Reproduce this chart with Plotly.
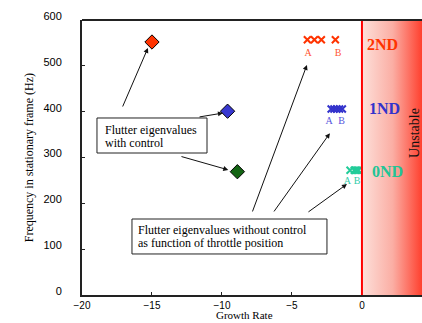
import plotly.graph_objects as go

# ---- data ----
ctrl_labels = ["2ND", "1ND", "0ND"]
ctrl_growth = [-15.0, -9.6, -8.9]
ctrl_freq = [552, 401, 269]
ctrl_colors = ["#ff3300", "#3838d0", "#146414"]

nd2_growth = [-3.9, -3.4, -2.9, -1.9]
nd2_freq = [557, 557, 557, 557]
nd1_growth = [-2.2, -2.0, -1.8, -1.6, -1.4]
nd1_freq = [406, 406, 406, 406, 406]
nd0_growth = [-0.85, -0.55, -0.45, -0.35, -0.25]
nd0_freq = [272, 272, 272, 272, 272]

ab_text = ["A", "B"]
nd2_ab_x = [-3.85, -1.7]
nd2_ab_y = [527, 527]
nd1_ab_x = [-2.35, -1.45]
nd1_ab_y = [378, 378]
nd0_ab_x = [-1.05, -0.35]
nd0_ab_y = [247, 247]

xticks = [-20, -15, -10, -5, 0]
yticks = [0, 100, 200, 300, 400, 500, 600]

box1_lines = ["Flutter eigenvalues", "with control"]
box2_lines = ["Flutter eigenvalues without control", "as function of throttle position"]

SANS = "Liberation Sans, Arial, sans-serif"
SERIF = "Liberation Serif, Times New Roman, serif"

fig = go.Figure()

# unstable gradient region
fig.add_trace(go.Scatter(
    x=[0, 4.4, 4.4, 0, 0], y=[0, 0, 600, 600, 0], mode="lines",
    line=dict(width=0), fill="toself",
    fillgradient=dict(type="horizontal",
                      colorscale=[[0, "#fde0da"], [0.5, "#fbaea4"], [1, "#ff3a28"]]),
    hoverinfo="skip", showlegend=False))

# controlled eigenvalues (diamonds)
fig.add_trace(go.Scatter(
    x=ctrl_growth, y=ctrl_freq, mode="markers",
    marker=dict(symbol="diamond", size=11, color=ctrl_colors,
                line=dict(color="black", width=1)),
    showlegend=False))

for gx, fy, col in [(nd2_growth, nd2_freq, "#ff3300"),
                    (nd1_growth, nd1_freq, "#3333cc"),
                    (nd0_growth, nd0_freq, "#22cc99")]:
    fig.add_trace(go.Scatter(
        x=gx, y=fy, mode="markers",
        marker=dict(symbol="x-thin-open", size=7, color=col,
                    line=dict(color=col, width=2)),
        showlegend=False))

for ax_, ay_, col in [(nd2_ab_x, nd2_ab_y, "#ff5533"),
                      (nd1_ab_x, nd1_ab_y, "#5555dd"),
                      (nd0_ab_x, nd0_ab_y, "#33ccaa")]:
    fig.add_trace(go.Scatter(
        x=ax_, y=ay_, mode="text", text=ab_text,
        textfont=dict(family=SERIF, size=10, color=col),
        showlegend=False))

# red stability line
fig.add_shape(type="line", x0=0, x1=0, y0=0, y1=600, xref="x", yref="y",
              line=dict(color="#ff0000", width=2))

ann = []
# mode labels
for txt, x, y, col in [("2ND", 1.45, 546, "#ff3300"),
                       ("1ND", 1.6, 408, "#3333cc"),
                       ("0ND", 1.85, 269, "#22c496")]:
    ann.append(dict(x=x, y=y, xref="x", yref="y", text="<b>%s</b>" % txt,
                    showarrow=False, font=dict(family=SERIF, size=16, color=col)))
ann.append(dict(x=3.8, y=354, xref="x", yref="y", text="Unstable", textangle=-90,
                showarrow=False, font=dict(family=SERIF, size=14, color="#111111")))

# text boxes (rectangle + lines of text)
fig.add_shape(type="rect", xref="x", yref="y", x0=-18.93, x1=-11.07, y0=309.8, y1=386.2,
              line=dict(color="#222222", width=1), fillcolor="white")
fig.add_shape(type="rect", xref="x", yref="y", x0=-16.43, x1=-2.5, y0=89.5, y1=165.8,
              line=dict(color="#222222", width=1), fillcolor="white")
for txt, y in zip(box1_lines, [360, 331.7]):
    ann.append(dict(x=-18.5, y=y, xref="x", yref="y", xanchor="left", yanchor="middle",
                    text=txt, showarrow=False,
                    font=dict(family=SERIF, size=12, color="black")))
for txt, y in zip(box2_lines, [141.8, 113.5]):
    ann.append(dict(x=-16.14, y=y, xref="x", yref="y", xanchor="left", yanchor="middle",
                    text=txt, showarrow=False,
                    font=dict(family=SERIF, size=12, color="black")))

# arrows (tail -> head), in data coordinates
arrows = [((-17.14, 408), (-15.29, 539)),
          ((-11.71, 388), (-9.93, 397)),
          ((-13.0, 303), (-9.55, 273)),
          ((-7.86, 179), (-3.93, 502)),
          ((-6.36, 179), (-2.29, 353)),
          ((-3.93, 179), (-1.07, 242))]
for (tx, ty), (hx, hy) in arrows:
    ann.append(dict(x=hx, y=hy, ax=tx, ay=ty, xref="x", yref="y", axref="x", ayref="y",
                    text="", showarrow=True, arrowhead=2, arrowsize=1, arrowwidth=1,
                    arrowcolor="#111111", standoff=0, startstandoff=0))

# axis titles
ann.append(dict(x=0.479, y=-0.1, xref="paper", yref="paper", yanchor="bottom",
                text="Growth Rate", showarrow=False,
                font=dict(family=SERIF, size=11, color="black")))
ann.append(dict(x=-0.183, y=0.5, xref="paper", yref="paper",
                text="Frequency in stationary frame (Hz)", textangle=-90, showarrow=False,
                font=dict(family=SERIF, size=12, color="black")))

fig.update_layout(
    width=422, height=323, margin=dict(l=82, r=0, t=20, b=28),
    paper_bgcolor="white", plot_bgcolor="white",
    annotations=ann, showlegend=False,
    xaxis=dict(range=[-20, 4.29], tickvals=xticks, ticks="inside", ticklen=3,
               tickcolor="#222222", showgrid=False, zeroline=False,
               showline=True, linecolor="#222222", linewidth=2, mirror=False,
               tickfont=dict(family=SANS, size=10, color="black")),
    yaxis=dict(range=[0, 600], tickvals=yticks, ticks="inside", ticklen=3,
               tickcolor="#222222", showgrid=False, zeroline=False,
               showline=True, linecolor="#222222", linewidth=2,
               ticklabelstandoff=16, ticklabelshift=-4,
               tickfont=dict(family=SANS, size=11, color="black")),
)
fig.add_shape(type="line", xref="paper", yref="paper", x0=0, x1=1, y0=1, y1=1,
              line=dict(color="#222222", width=2))

fig.write_html("out.html", config={"displayModeBar": False},
               post_script="document.body.style.margin='0px';")
